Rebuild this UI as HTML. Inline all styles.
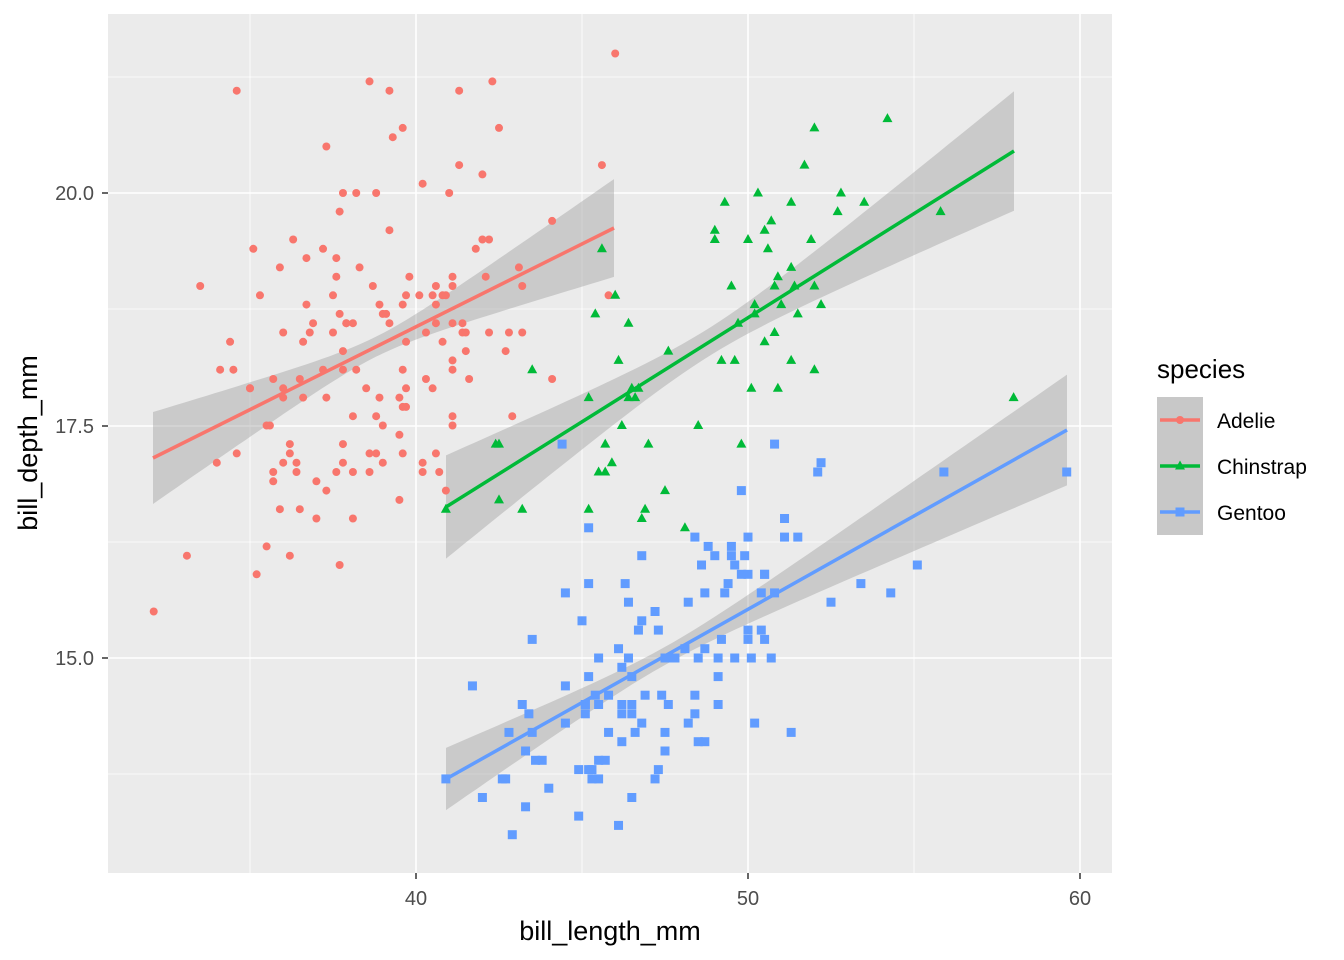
<!DOCTYPE html>
<html><head><meta charset="utf-8">
<style>
html,body{margin:0;padding:0;background:#fff;}
svg{display:block;font-family:"Liberation Sans",Arial,sans-serif;}
</style></head>
<body>
<svg id="s" width="1344" height="960" xmlns="http://www.w3.org/2000/svg">
<rect x="0" y="0" width="1344" height="960" fill="#fff"/>
<rect x="108" y="14" width="1004" height="859" fill="#ebebeb"/>
<g id="grid"></g>
<g id="rib"></g>
<g id="pts"></g>
<g id="lines"></g>
<g font-size="20" fill="#4d4d4d">
<text x="94" y="200" text-anchor="end">20.0</text>
<text x="94" y="433" text-anchor="end">17.5</text>
<text x="94" y="665" text-anchor="end">15.0</text>
<text x="416" y="905" text-anchor="middle">40</text>
<text x="748" y="905" text-anchor="middle">50</text>
<text x="1080" y="905" text-anchor="middle">60</text>
</g>
<g stroke="#333" stroke-width="1.5">
<line x1="102" y1="193" x2="108" y2="193"/><line x1="102" y1="426" x2="108" y2="426"/><line x1="102" y1="658" x2="108" y2="658"/>
<line x1="416" y1="873" x2="416" y2="879"/><line x1="748" y1="873" x2="748" y2="879"/><line x1="1080" y1="873" x2="1080" y2="879"/>
</g>
<text x="610" y="940" font-size="27" text-anchor="middle" fill="#000">bill_length_mm</text>
<text transform="translate(37,443) rotate(-90)" font-size="27" text-anchor="middle" fill="#000">bill_depth_mm</text>
<text x="1157" y="378" font-size="26" fill="#000">species</text>
<g id="leg"></g>
<text x="1217" y="428" font-size="21" fill="#000">Adelie</text>
<text x="1217" y="474" font-size="21" fill="#000">Chinstrap</text>
<text x="1217" y="520" font-size="21" fill="#000">Gentoo</text>
</svg>
<script>
const NS="http://www.w3.org/2000/svg";
function el(p,t,a){const e=document.createElementNS(NS,t);for(const k in a)e.setAttribute(k,a[k]);document.getElementById(p).appendChild(e);return e;}
const X=v=>416+(v-40)*33.2, Y=v=>193-(v-20)*93;
[250,582,914].forEach(x=>el('grid','line',{x1:x,y1:14,x2:x,y2:873,stroke:'#fff','stroke-width':0.8}));
[77,309,542,774].forEach(y=>el('grid','line',{x1:108,y1:y,x2:1112,y2:y,stroke:'#fff','stroke-width':0.8}));
[416,748,1080].forEach(x=>el('grid','line',{x1:x,y1:14,x2:x,y2:873,stroke:'#fff','stroke-width':1.6}));
[193,426,658].forEach(y=>el('grid','line',{x1:108,y1:y,x2:1112,y2:y,stroke:'#fff','stroke-width':1.6}));
const A="39.1 18.7 39.5 17.4 40.3 18 36.7 19.3 39.3 20.6 38.9 17.8 39.2 19.6 34.1 18.1 42 20.2 37.8 17.1 37.8 17.3 41.1 17.6 38.6 21.2 34.6 21.1 36.6 17.8 38.7 19 42.5 20.7 34.4 18.4 46 21.5 37.8 18.3 37.7 18.7 35.9 19.2 38.2 18.1 38.8 17.2 35.3 18.9 40.6 18.6 40.5 17.9 37.9 18.6 40.5 18.9 39.5 16.7 37.2 18.1 39.5 17.8 40.9 18.9 36.4 17 39.2 21.1 38.8 20 42.2 18.5 37.6 19.3 39.8 19.1 36.5 18 40.8 18.4 36 18.5 44.1 19.7 37 16.9 39.6 18.8 41.1 19 37.5 18.9 36 17.9 42.3 21.2 39.6 17.7 40.1 18.9 35 17.9 42 19.5 34.5 18.1 41.4 18.6 39 17.5 40.6 18.8 36.5 16.6 37.6 19.1 35.7 16.9 41.3 21.1 37.6 17 41.1 18.2 36.4 17.1 41.6 18 35.5 16.2 41.1 19.1 35.9 16.6 41.8 19.4 33.5 19 39.7 18.4 39.6 17.2 45.8 18.9 35.5 17.5 42.8 18.5 40.9 16.8 37.2 19.4 36.2 16.1 42.1 19.1 34.6 17.2 42.9 17.6 36.7 18.8 35.1 19.4 37.3 17.8 41.3 20.3 36.3 19.5 36.9 18.6 38.3 19.2 38.9 18.8 35.7 18 41.1 18.1 34 17.1 39.6 18.1 36.2 17.3 40.8 18.9 38.1 18.6 40.3 18.5 33.1 16.1 43.2 18.5 35 17.9 41 20 37.7 16 37.8 20 37.9 18.6 39.7 18.9 38.6 17.2 38.2 20 38.1 17 43.2 19 38.1 16.5 45.6 20.3 39.7 17.7 42.2 19.5 39.6 20.7 42.7 18.3 38.6 17 37.3 20.5 35.7 17 41.1 18.6 36.2 17.2 37.7 19.8 40.2 17 41.4 18.5 35.2 15.9 40.6 19 38.8 17.6 41.5 18.3 39 17.1 44.1 18 38.5 17.9 43.1 19.2 36.8 18.5 37.5 18.5 38.1 17.6 41.1 17.5 35.6 17.5 40.2 20.1 37 16.5 39.7 17.9 40.2 17.1 40.6 17.2 32.1 15.5 40.7 17 37.3 16.8 39 18.7 39.2 18.6 36.6 18.4 36 17.8 37.8 18.1 36 17.1 41.5 18.5";
const C="46.5 17.9 50 19.5 51.3 19.2 45.4 18.7 52.7 19.8 45.2 17.8 46.1 18.2 51.3 18.2 46 18.9 51.3 19.9 46.6 17.8 51.7 20.3 47 17.3 52 18.1 45.9 17.1 50.5 19.6 50.3 20 58 17.8 46.4 18.6 49.2 18.2 42.4 17.3 48.5 17.5 43.2 16.6 50.6 19.4 46.7 17.9 52 19 50.5 18.4 49.5 19 46.4 17.8 52.8 20 40.9 16.6 54.2 20.8 42.5 16.7 51 18.8 49.7 18.6 47.5 16.8 47.6 18.3 52 20.7 46.9 16.6 53.5 19.9 49 19.5 46.2 17.5 50.9 19.1 45.5 17 50.9 17.9 50.8 18.5 50.1 17.9 49 19.6 51.5 18.7 49.8 17.3 48.1 16.4 51.4 19 45.7 17.3 50.7 19.7 42.5 17.3 52.2 18.8 45.2 16.6 49.3 19.9 50.2 18.8 45.6 19.4 51.9 19.5 46.8 16.5 45.7 17 55.8 19.8 43.5 18.1 49.6 18.2 50.8 19 50.2 18.7";
const G="46.1 13.2 50 16.3 48.7 14.1 50 15.2 47.6 14.5 46.5 13.5 45.4 14.6 46.7 15.3 43.3 13.4 46.8 15.4 40.9 13.7 49 16.1 45.5 13.7 48.4 14.6 45.8 14.6 49.3 15.7 42 13.5 49.2 15.2 46.2 14.5 48.7 15.1 50.2 14.3 45.1 14.5 46.5 14.5 46.3 15.8 42.9 13.1 46.1 15.1 44.5 14.3 47.8 15 48.2 14.3 50 15.3 47.3 15.3 42.8 14.2 45.1 14.5 59.6 17 49.1 14.8 48.4 16.3 42.6 13.7 44.4 17.3 44 13.6 48.7 15.7 42.7 13.7 49.6 16 45.3 13.7 49.6 15 50.5 15.9 43.6 13.9 45.5 13.9 50.5 15.9 44.9 13.3 45.2 15.8 46.6 14.2 48.5 14.1 45.1 14.4 50.1 15 46.5 14.4 45 15.4 43.8 13.9 45.5 15 43.2 14.5 50.4 15.3 45.3 13.8 46.2 14.9 45.7 13.9 54.3 15.7 45.8 14.2 49.8 16.8 46.2 14.4 49.5 16.2 43.5 14.2 50.7 15 47.7 15 46.4 15.6 48.2 15.6 46.5 14.8 46.4 15 48.6 16 47.5 14.2 51.1 16.3 45.2 13.8 45.2 16.4 49.1 14.5 52.5 15.6 47.4 14.6 50 15.9 44.9 13.8 50.8 17.3 43.4 14.4 51.3 14.2 47.5 14 52.1 17 47.5 15 52.2 17.1 45.5 14.5 49.5 16.1 44.5 14.7 50.8 15.7 49.4 15.8 46.9 14.6 48.4 14.4 51.1 16.5 48.5 15 55.9 17 47.2 15.5 49.1 15 47.3 13.8 46.8 16.1 41.7 14.7 53.4 15.8 43.3 14 48.1 15.1 50.5 15.2 49.8 15.9 43.5 15.2 51.5 16.3 46.2 14.1 55.1 16 44.5 15.7 48.8 16.2 47.2 13.7 46.8 14.3 50.4 15.7 45.2 14.8 49.9 16.1";
const P=s=>{const a=s.split(' ').map(Number),r=[];for(let i=0;i<a.length;i+=2)r.push([a[i],a[i+1]]);return r;};
function rib(x0,y0,x1,y1,xm,mn,b){let up=[],dn=[];for(let i=0;i<=60;i++){const x=x0+(x1-x0)*i/60,y=y0+(y1-y0)*i/60,h=Math.sqrt(mn*mn+b*(x-xm)*(x-xm));up.push(x.toFixed(1)+','+(y-h).toFixed(1));dn.unshift(x.toFixed(1)+','+(y+h).toFixed(1));}
el('rib','polygon',{points:up.concat(dn).join(' '),fill:'#999','fill-opacity':0.4});}
rib(153,458,614,228,376,10,0.0405);
rib(446,507,1014,151,708,14,0.036);
rib(446,779,1067,430,665,9,0.0185);
P(A).forEach(p=>el('pts','circle',{cx:X(p[0]),cy:Y(p[1]),r:4,fill:'#F8766D'}));
P(C).forEach(p=>{const x=X(p[0]),y=Y(p[1]);el('pts','polygon',{points:`${x},${y-5.5} ${x-5},${y+3.5} ${x+5},${y+3.5}`,fill:'#00BA38'});});
P(G).forEach(p=>el('pts','rect',{x:X(p[0])-4.5,y:Y(p[1])-4.5,width:9,height:9,fill:'#619CFF'}));
el('lines','line',{x1:153,y1:458,x2:614,y2:228,stroke:'#F8766D','stroke-width':3.5});
el('lines','line',{x1:446,y1:507,x2:1014,y2:151,stroke:'#00BA38','stroke-width':3.5});
el('lines','line',{x1:446,y1:779,x2:1067,y2:430,stroke:'#619CFF','stroke-width':3.5});
const cols=['#F8766D','#00BA38','#619CFF'];
el('leg','rect',{x:1157,y:397,width:46,height:138,fill:'#c8c8c8'});
cols.forEach((c,i)=>{const y=420+i*46;el('leg','line',{x1:1160,y1:y,x2:1200,y2:y,stroke:c,'stroke-width':3.5});
if(i==0)el('leg','circle',{cx:1180,cy:y,r:4,fill:c});
if(i==1)el('leg','polygon',{points:`1180,${y-5.5} 1175,${y+3.5} 1185,${y+3.5}`,fill:c});
if(i==2)el('leg','rect',{x:1175.5,y:y-4.5,width:9,height:9,fill:c});});
</script>
</body></html>
